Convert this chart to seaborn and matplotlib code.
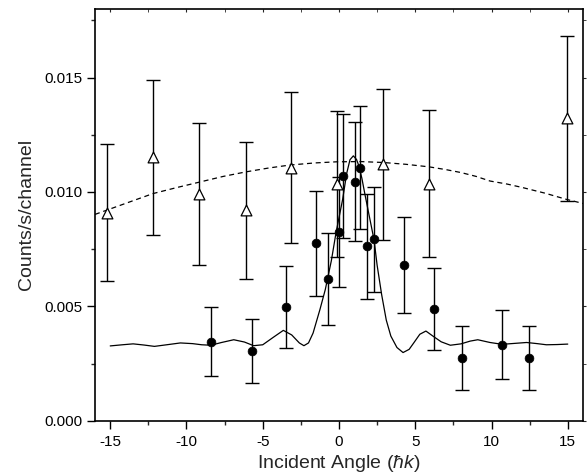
import numpy as np
import pandas as pd
import matplotlib
matplotlib.use("Agg")
import matplotlib.pyplot as plt
import seaborn as sns

# open triangles (upper data set)
tri_x = [-15.19, -12.18, -9.18, -6.12, -3.15, -0.11, 2.91, 5.90, 14.93]
tri_y = [0.00910, 0.01151, 0.00990, 0.00920, 0.01107, 0.01034, 0.01121, 0.01037, 0.01322]
tri_err = [0.0030, 0.0034, 0.0031, 0.0030, 0.0033, 0.0032, 0.0033, 0.0032, 0.0036]

# filled circles (lower data set)
circ_x = [-8.41, -5.72, -3.50, -1.53, -0.74, -0.02, 0.24, 1.05, 1.38, 1.86, 2.30,
          4.28, 6.25, 8.09, 10.69, 12.48]
circ_y = [0.00345, 0.00306, 0.00497, 0.00775, 0.00620, 0.00825, 0.01070, 0.01044,
          0.01107, 0.00763, 0.00793, 0.00679, 0.00489, 0.00276, 0.00333, 0.00276]
circ_err = [0.0015, 0.0014, 0.0018, 0.0023, 0.0020, 0.0024, 0.0027, 0.0026,
            0.0027, 0.0023, 0.0023, 0.0021, 0.0018, 0.0014, 0.0015, 0.0014]

# dashed broad fit
fit_wide_x = [-16.0, -14.0, -12.2, -10.6, -9.1, -7.6, -6.1, -4.6, -3.2, -1.6,
              -0.15, 1.4, 2.9, 4.4, 5.9, 7.0, 8.0, 9.0, 9.9, 11.0, 12.0, 13.5, 14.9, 16.0]
fit_wide_y = [0.00902, 0.00950, 0.00993, 0.01020, 0.01044, 0.01068, 0.01088, 0.01105,
              0.01118, 0.01127, 0.01132, 0.01133, 0.01129, 0.01121, 0.01110, 0.01098,
              0.01085, 0.01068, 0.01048, 0.01035, 0.01020, 0.00995, 0.00968, 0.00950]

# solid narrow fit
fit_narrow_x = [-15.0, -14.2, -13.5, -12.8, -12.1, -11.3, -10.4, -9.6, -9.0, -8.4,
                -7.7, -6.9, -6.2, -5.6, -5.0, -4.3, -3.65, -3.1, -2.6, -2.3, -2.0,
                -1.7, -1.25, -0.9, -0.5, -0.2, 0.24, 0.5, 0.72, 0.94, 1.15, 1.3,
                1.5, 1.7, 2.0, 2.3, 2.5, 2.8, 3.1, 3.4, 3.8, 4.2, 4.6, 4.9, 5.3,
                5.7, 6.2, 6.7, 7.3, 8.0, 8.6, 9.1, 9.9, 10.7, 11.5, 12.3, 13.0,
                13.6, 14.3, 15.0]
fit_narrow_y = [0.00327, 0.00332, 0.00336, 0.00331, 0.00325, 0.00332, 0.00340, 0.00337,
                0.00332, 0.00330, 0.00342, 0.00354, 0.00344, 0.00328, 0.00332, 0.00365,
                0.00395, 0.00375, 0.00340, 0.00328, 0.00340, 0.00383, 0.00486, 0.00573,
                0.00700, 0.00820, 0.00968, 0.01080, 0.01141, 0.01158, 0.01142, 0.01115,
                0.01060, 0.00990, 0.00890, 0.00790, 0.00680, 0.00550, 0.00440, 0.00370,
                0.00320, 0.00298, 0.00312, 0.00340, 0.00378, 0.00392, 0.00368, 0.00345,
                0.00330, 0.00336, 0.00348, 0.00354, 0.00342, 0.00334, 0.00338, 0.00342,
                0.00337, 0.00332, 0.00333, 0.00335]

sns.set_style("ticks")
plt.rcParams["font.family"] = ["Liberation Sans", "DejaVu Sans"]
plt.rcParams["axes.unicode_minus"] = False
plt.rcParams["mathtext.fontset"] = "custom"
plt.rcParams["mathtext.rm"] = "Liberation Sans"
plt.rcParams["mathtext.it"] = "Liberation Sans:italic"

fig = plt.figure(figsize=(5.87, 4.75), dpi=100)
ax = fig.add_axes([0.1618, 0.1143, 0.8314, 0.8667])

wide = pd.DataFrame({"x": fit_wide_x, "y": fit_wide_y})
narrow = pd.DataFrame({"x": fit_narrow_x, "y": fit_narrow_y})
sns.lineplot(data=wide, x="x", y="y", sort=False, estimator=None, ax=ax,
             color="black", lw=0.9, linestyle=(0, (4, 3)), zorder=2)
sns.lineplot(data=narrow, x="x", y="y", sort=False, estimator=None, ax=ax,
             color="black", lw=0.9, zorder=2)

ax.errorbar(tri_x, tri_y, yerr=tri_err, fmt="none", ecolor="black",
            elinewidth=1, capsize=5, capthick=1, zorder=3)
ax.errorbar(circ_x, circ_y, yerr=circ_err, fmt="none", ecolor="black",
            elinewidth=1, capsize=5, capthick=1, zorder=3)

sns.scatterplot(x=tri_x, y=tri_y, marker="^", s=60, facecolor="white",
                edgecolor="black", linewidth=0.9, ax=ax, zorder=4)
sns.scatterplot(x=circ_x, y=circ_y, marker="o", s=40, color="black",
                edgecolor="black", linewidth=0.5, ax=ax, zorder=4)

ax.set_xlim(-16, 16)
ax.set_ylim(0, 0.018)
ax.set_xticks([-15, -10, -5, 0, 5, 10, 15])
ax.set_xticks(np.arange(-15, 16, 2.5), minor=True)
ax.set_yticks([0.0, 0.005, 0.010, 0.015])
ax.set_yticks(np.arange(0, 0.0181, 0.0025), minor=True)
ax.set_yticklabels(["0.000", "0.005", "0.010", "0.015"])

ax.tick_params(which="major", direction="out", length=5.5, width=1, labelsize=11,
               colors="black")
ax.tick_params(axis="x", which="major", length=6, pad=4)
ax.tick_params(axis="y", which="major", pad=3.5)
ax.tick_params(which="minor", direction="out", length=3, width=1)

for sp in ax.spines.values():
    sp.set_linewidth(1.2)
    sp.set_color("black")
    sp.set_visible(True)

top = ax.secondary_xaxis("top")
top.set_xticks([-15, -10, -5, 0, 5, 10, 15])
top.set_xticks(np.arange(-15, 16, 2.5), minor=True)
top.tick_params(which="both", direction="in", length=2, labeltop=False)
right = ax.secondary_yaxis("right")
right.set_yticks([0.0, 0.005, 0.010, 0.015])
right.set_yticks(np.arange(0, 0.0181, 0.0025), minor=True)
right.tick_params(which="both", direction="out", length=2, labelright=False)
for a in (top, right):
    for sp in a.spines.values():
        sp.set_visible(False)

ax.set_xlabel(r"Incident Angle ($\hbar k$)", fontsize=14, labelpad=3)
ax.set_ylabel("Counts/s/channel", fontsize=14, labelpad=7)

fig.savefig("out.png", dpi=100)
